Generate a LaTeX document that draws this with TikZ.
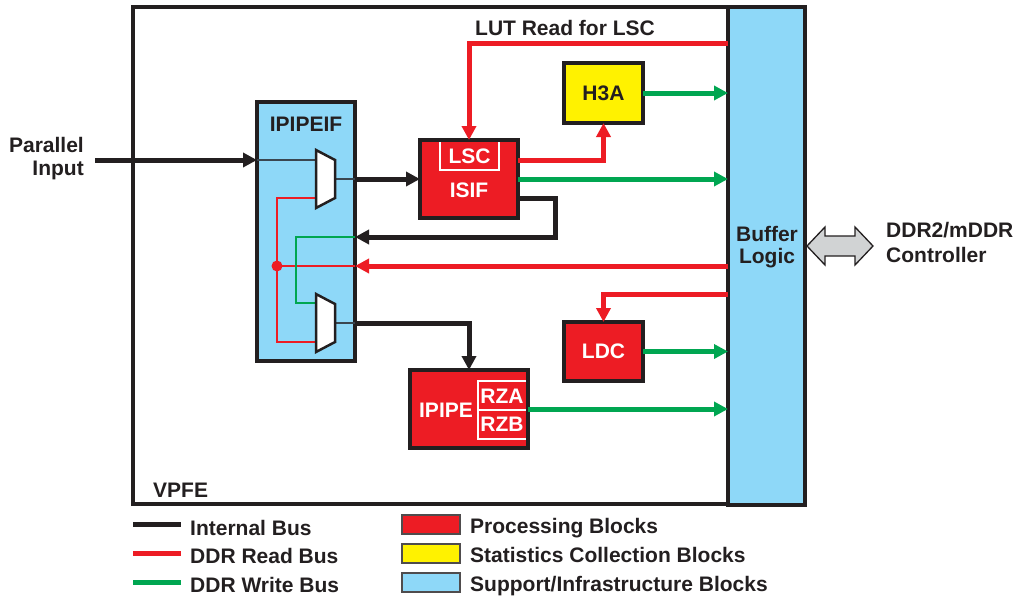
\documentclass[tikz,border=0pt]{standalone}
\usepackage{fontspec}
\setmainfont{Liberation Sans}
\usetikzlibrary{arrows.meta,calc}
\definecolor{pred}{HTML}{ED1C24}
\definecolor{pgreen}{HTML}{00A651}
\definecolor{pyellow}{HTML}{FFF200}
\definecolor{pblue}{HTML}{8ED8F8}
\definecolor{pgray}{HTML}{D1D3D4}
\definecolor{ptext}{HTML}{231F20}
\definecolor{pthin}{HTML}{3A4650}
\tikzset{
  txt/.style={font=\bfseries\fontsize{21}{24}\selectfont, text=ptext, inner sep=0pt},
  wtxt/.style={txt, text=white},
  blk/.style={draw=ptext, line width=4pt, inner sep=0pt, outer sep=0pt},
  procblk/.style={blk, fill=pred},
  statblk/.style={blk, fill=pyellow},
  suppblk/.style={blk, fill=pblue, line width=3.5pt},
  tip/.style={-{Triangle[length=14pt,width=14pt]}},
  ibus/.style={draw=ptext, line width=5pt},
  rbus/.style={draw=pred, line width=5pt},
  gbus/.style={draw=pgreen, line width=5pt},
  thinline/.style={line width=1.2pt},
  muxshape/.style={draw=ptext, fill=white, line width=2.5pt, line join=miter},
  swatch/.style={draw=ptext!80, line width=1.2pt, minimum width=58pt, minimum height=19pt, inner sep=0pt},
  inner/.style={draw=white, line width=2pt}
}
\begin{document}
\begin{tikzpicture}[x=1pt,y=-1pt]
\useasboundingbox[fill=white] (0,0) rectangle (1021,598);

% VPFE frame
\node[draw=ptext, line width=3.5pt, minimum width=595pt, minimum height=497pt, inner sep=0pt] (vpfe) at (430.5,255.5) {};
\node[txt, anchor=base west] (vpfelbl) at (153,497) {VPFE};

% Buffer logic
\node[suppblk, minimum width=77pt, minimum height=498pt] (buf) at (766.5,256) {};
\node[txt, anchor=base] (buftxt1) at (767,241) {Buffer};
\node[txt, anchor=base] (buftxt2) at (767,263) {Logic};

% IPIPEIF
\node[suppblk, minimum width=98pt, minimum height=259pt] (ipipeif) at (306,231.5) {};
\node[txt, anchor=base] (ipipeiflbl) at (306,131) {IPIPEIF};

% mux pins
\coordinate (m1in) at (316,160);
\coordinate (m1inb) at (316,198);
\coordinate (m1out) at (335,179);
\coordinate (m2in) at (316,303);
\coordinate (m2inb) at (316,342);
\coordinate (m2out) at (335,323);
\coordinate (dot) at (277,266);

% processing blocks
\node[procblk, minimum width=98pt, minimum height=78pt] (isif) at (469,179) {};
\draw[inner] (440,142) -- (440,170) -- (499,170) -- (499,142);
\node[wtxt, anchor=base] (lsclbl) at (469.5,163) {LSC};
\node[wtxt, anchor=base] (isiflbl) at (469,197) {ISIF};

\node[statblk, minimum width=79pt, minimum height=60pt] (h3a) at (603.5,93) {};
\node[txt, anchor=base] (h3albl) at (603.5,100) {H3A};

\node[procblk, minimum width=79pt, minimum height=59pt] (ldc) at (603.5,351.5) {};
\node[wtxt, anchor=base] (ldclbl) at (603.5,358) {LDC};

\node[procblk, minimum width=118pt, minimum height=78pt] (ipipe) at (469,409) {};
\draw[inner] (526,381) -- (478,381) -- (478,439) -- (526,439);
\draw[inner] (478,410) -- (526,410);
\node[wtxt, anchor=base] (ipipelbl) at (446,417) {IPIPE};
\node[wtxt, anchor=base] (rzalbl) at (502,403) {RZA};
\node[wtxt, anchor=base] (rzblbl) at (502,431) {RZB};

% thin internal lines of IPIPEIF
\draw[pthin, thinline] (ipipeif.west |- m1in) -- (m1in);
\draw[pthin, thinline] (m1out) -- (ipipeif.east |- m1out);
\draw[pthin, thinline] (m2out) -- (ipipeif.east |- m2out);
\draw[pred, thinline] (m1inb) -- (dot |- m1inb) -- (dot |- m2inb) -- (m2inb);
\draw[pred, thinline] (dot) -- (ipipeif.east |- dot);
\draw[pgreen, thinline] (ipipeif.east |- 0,237) -- (296,237) -- (296,303) -- (m2in);
\fill[pred] (dot) circle (5.5pt);
\draw[muxshape] (316,150) -- (335,160) -- (335,198) -- (316,208) -- cycle;
\draw[muxshape] (316,294) -- (335,304) -- (335,342) -- (316,352) -- cycle;

% Parallel input
\coordinate (pin) at (95,160);
\node[txt, anchor=base east] (pinlbl1) at (84,152) {Parallel};
\node[txt, anchor=base east] (pinlbl2) at (84,175) {Input};
\draw[ibus, tip] (pin) -- (ipipeif.west |- pin);

% internal buses
\draw[ibus, tip] (ipipeif.east |- isif.west) -- (isif.west);
\coordinate (loopc) at (555,237);
\draw[ibus, tip, line join=miter] (isif.east |- 0,198) -| (loopc) -- (ipipeif.east |- loopc);
\draw[ibus, tip, line join=miter] (ipipeif.east |- m2out) -| (ipipe.north);

% DDR read buses
\draw[rbus, tip, line join=miter] (buf.west |- 0,43) -| (isif.north);
\node[txt, anchor=base] (lutlbl) at (565,35) {LUT Read for LSC};
\draw[rbus, tip, line join=miter] (isif.east |- 0,160) -| (h3a.south);
\draw[rbus, tip] (buf.west |- dot) -- (ipipeif.east |- dot);
\draw[rbus, tip, line join=miter] (buf.west |- 0,294) -| (ldc.north);

% DDR write buses
\draw[gbus, tip] (h3a.east) -- (buf.west |- h3a.east);
\draw[gbus, tip] (isif.east) -- (buf.west |- isif.east);
\draw[gbus, tip] (ldc.east) -- (buf.west |- ldc.east);
\draw[gbus, tip] (ipipe.east) -- (buf.west |- ipipe.east);

% DDR controller double arrow
\coordinate (dal) at (807,246);
\coordinate (dar) at (873,246);
\draw[fill=pgray, draw=ptext, line width=1.3pt, line join=miter]
  (dal) -- ++(18,-19) -- ++(0,9) -- (855,236) -- (855,227) -- (dar)
  -- (855,265) -- (855,256) -- (825,256) -- (825,265) -- cycle;
\node[txt, anchor=base west] (ddrlbl1) at (886,237) {DDR2/mDDR};
\node[txt, anchor=base west] (ddrlbl2) at (886,262) {Controller};

% legend
\draw[ibus] (133,524) coordinate (l1a) -- (181,524) coordinate (l1b);
\draw[rbus] (133,553) coordinate (l2a) -- (181,553) coordinate (l2b);
\draw[gbus] (133,582) coordinate (l3a) -- (181,582) coordinate (l3b);
\node[txt, anchor=base west] (lg1) at (190,535) {Internal Bus};
\node[txt, anchor=base west] (lg2) at (190,563) {DDR Read Bus};
\node[txt, anchor=base west] (lg3) at (190,592) {DDR Write Bus};
\node[swatch, fill=pred] (sw1) at (431,524.5) {};
\node[swatch, fill=pyellow] (sw2) at (431,553.5) {};
\node[swatch, fill=pblue] (sw3) at (431,582.5) {};
\node[txt, anchor=base west] (lg4) at (470,533) {Processing Blocks};
\node[txt, anchor=base west] (lg5) at (470,562) {Statistics Collection Blocks};
\node[txt, anchor=base west] (lg6) at (470,591) {Support/Infrastructure Blocks};
\end{tikzpicture}
\end{document}
